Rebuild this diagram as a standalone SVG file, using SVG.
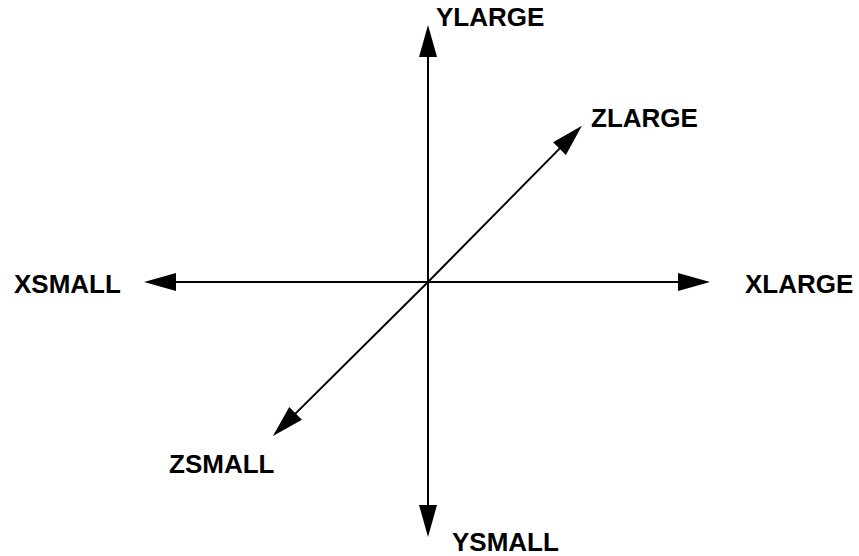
<svg xmlns="http://www.w3.org/2000/svg" width="859" height="556" viewBox="0 0 859 556">
<style>
.ax{stroke:#000;stroke-width:2;fill:none;marker-end:url(#ah)}
.lb{font-family:"Liberation Sans",Arial,sans-serif;font-weight:bold;font-size:26px;fill:#000}
</style>
<defs>
<marker id="ah" markerUnits="userSpaceOnUse" markerWidth="34" markerHeight="20" viewBox="0 0 34 20" refX="12" refY="10" orient="auto">
<path d="M0,1 L32,10 L0,19 Z" fill="#000"/>
</marker>
</defs>
<rect width="859" height="556" fill="#fff"/>
<g id="connectors">
<line class="ax" x1="428" y1="282" x2="428" y2="45"/>
<line class="ax" x1="428" y1="282" x2="428" y2="517"/>
<line class="ax" x1="428" y1="282" x2="164" y2="282"/>
<line class="ax" x1="428" y1="282" x2="690" y2="282"/>
<line class="ax" x1="428" y1="282" x2="567.9" y2="140.1"/>
<line class="ax" x1="428" y1="282" x2="287.1" y2="421.9"/>
</g>
<g id="ylarge"><text class="lb" x="436" y="26">YLARGE</text></g>
<g id="ysmall"><text class="lb" x="452" y="551">YSMALL</text></g>
<g id="xsmall"><text class="lb" x="14" y="293">XSMALL</text></g>
<g id="xlarge"><text class="lb" x="745" y="293">XLARGE</text></g>
<g id="zlarge"><text class="lb" x="591" y="127">ZLARGE</text></g>
<g id="zsmall"><text class="lb" x="169" y="473">ZSMALL</text></g>
</svg>
